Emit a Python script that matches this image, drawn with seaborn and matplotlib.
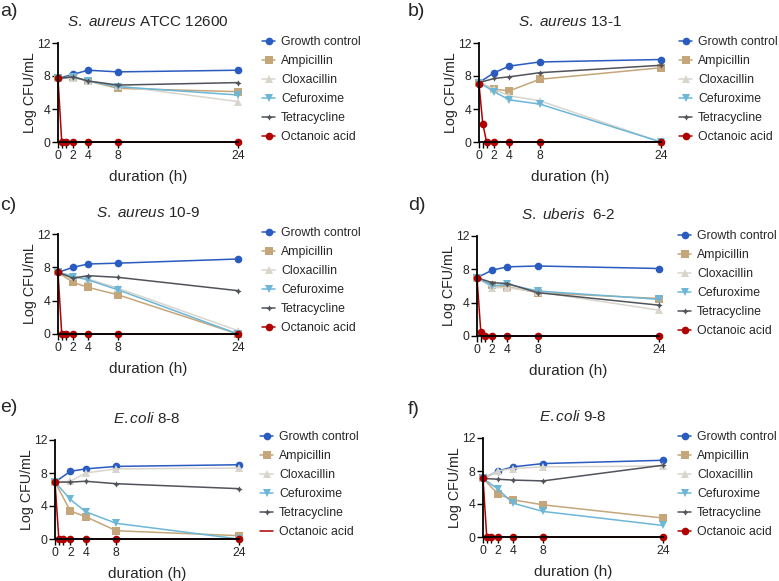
import numpy as np
import pandas as pd
import matplotlib
matplotlib.use("Agg")
import matplotlib.pyplot as plt
import seaborn as sns

sns.set_style("ticks")
plt.rcParams['font.family'] = ['Liberation Sans', 'DejaVu Sans']
plt.rcParams['mathtext.fontset'] = 'custom'
plt.rcParams['mathtext.it'] = 'Liberation Sans:italic'
plt.rcParams['mathtext.rm'] = 'Liberation Sans'

treatments = ["Growth control", "Ampicillin", "Cloxacillin", "Cefuroxime",
              "Tetracycline", "Octanoic acid"]
hours = [0, 2, 4, 8, 24]
hours_oct = [0, 0.5, 1, 2, 4, 8, 24]
x_ticks = [0, 2, 4, 8, 24]
y_ticks = [0, 4, 8, 12]

# rows: growth, ampicillin, cloxacillin, cefuroxime, tetracycline (at hours)
a_vals = [[7.7, 8.2, 8.7, 8.5, 8.7],
          [7.7, 7.9, 7.4, 6.5, 6.1],
          [7.7, 7.8, 7.4, 6.8, 4.9],
          [7.7, 7.9, 7.4, 6.7, 5.7],
          [7.7, 7.9, 7.4, 6.9, 7.2]]
a_oct = [7.7, 0, 0, 0, 0, 0, 0]

b_vals = [[7.2, 8.4, 9.2, 9.7, 10.0],
          [7.2, 6.4, 6.2, 7.6, 9.0],
          [7.2, 6.4, 5.6, 5.0, 0.0],
          [7.2, 6.1, 5.1, 4.6, 0.0],
          [7.2, 7.7, 7.9, 8.4, 9.3]]
b_oct = [7.0, 2.2, 0, 0, 0, 0, 0]

c_vals = [[7.4, 8.0, 8.4, 8.5, 9.0],
          [7.4, 6.2, 5.6, 4.7, 0.0],
          [7.4, 7.0, 6.6, 5.5, 0.4],
          [7.4, 6.9, 6.5, 5.3, 0.0],
          [7.4, 6.7, 7.0, 6.8, 5.2]]
c_oct = [7.4, 0, 0, 0, 0, 0, 0]

d_vals = [[7.0, 7.9, 8.3, 8.4, 8.1],
          [7.0, 6.1, 5.9, 5.2, 4.5],
          [7.0, 5.8, 5.8, 5.3, 3.1],
          [7.0, 6.0, 6.2, 5.4, 4.4],
          [7.0, 6.4, 6.3, 5.2, 3.7]]
d_oct = [7.0, 0.5, 0, 0, 0, 0, 0]

e_vals = [[6.9, 8.2, 8.5, 8.8, 9.0],
          [6.9, 3.4, 2.7, 1.0, 0.4],
          [6.9, 7.0, 8.0, 8.5, 8.6],
          [6.9, 4.8, 3.3, 1.9, 0.0],
          [6.9, 6.9, 7.0, 6.7, 6.1]]
e_oct = [6.9, 0, 0, 0, 0, 0, 0]

f_vals = [[7.1, 8.0, 8.5, 8.9, 9.3],
          [7.1, 5.2, 4.5, 3.9, 2.3],
          [7.1, 8.0, 8.3, 8.5, 8.6],
          [7.1, 5.8, 4.1, 3.1, 1.4],
          [7.1, 7.0, 6.9, 6.8, 8.7]]
f_oct = [7.1, 0, 0, 0, 0, 0, 0]

palette = {"Growth control": "#2a5bc0", "Ampicillin": "#c4a67a",
           "Cloxacillin": "#d9d5cc", "Cefuroxime": "#6cb6d8",
           "Tetracycline": "#50535a", "Octanoic acid": "#b00000"}
markers = {"Growth control": "o", "Ampicillin": "s", "Cloxacillin": "^",
           "Cefuroxime": "v", "Tetracycline": (4, 1, 0), "Octanoic acid": "o"}

W, H = 779, 581
fig = plt.figure(figsize=(W / 100, H / 100), dpi=100)


def px_box(x0, x1, ytop, ybot):
    return [x0 / W, 1 - ybot / H, (x1 - x0) / W, (ybot - ytop) / H]


def draw_panel(box, label, label_xy, title, vals, oct_vals, leg_xy, oct_line_only=False):
    rows = []
    for name, ys in zip(treatments[:5], vals):
        for h, v in zip(hours, ys):
            rows.append((name, h, v))
    for h, v in zip(hours_oct, oct_vals):
        rows.append(("Octanoic acid", h, v))
    df = pd.DataFrame(rows, columns=["treatment", "time", "logcfu"])

    ax = fig.add_axes(px_box(*box))
    sns.lineplot(data=df, x="time", y="logcfu", hue="treatment", style="treatment",
                 hue_order=treatments, style_order=treatments, palette=palette,
                 markers=markers, dashes=False, errorbar=None, markersize=5.5,
                 markeredgewidth=0, linewidth=1.1, ax=ax)
    for ln in ax.lines:
        ln.set_clip_on(False)
    ax.lines[4].set_markersize(4.5)

    ax.set_xlim(0, 24)
    ax.set_ylim(0, 12)
    ax.set_xticks(x_ticks)
    ax.set_xticks([0.5, 1], minor=True)
    ax.set_yticks(y_ticks)
    sns.despine(ax=ax)
    for s in ["left", "bottom"]:
        ax.spines[s].set_linewidth(1.3)
        ax.spines[s].set_color("black")
    ax.tick_params(which="both", length=4, width=1, labelsize=8.8, pad=1.5, color="black")
    ax.set_xlabel("duration (h)", fontsize=11, labelpad=6)
    ax.set_ylabel("Log CFU/mL", fontsize=10.3, labelpad=0)
    ax.set_title(title, fontsize=11, pad=12.5)

    sns.move_legend(ax, "upper left", bbox_to_anchor=(leg_xy[0] / W, 1 - leg_xy[1] / H),
                    bbox_transform=fig.transFigure, frameon=False, title=None,
                    fontsize=8.8, borderpad=0, borderaxespad=0, handlelength=1.1,
                    handletextpad=0.45, labelspacing=0.58)
    leg = ax.get_legend()
    leg.legend_handles[4].set_markersize(4.5)
    if oct_line_only:
        leg.legend_handles[5].set_marker("")

    fig.text(label_xy[0] / W, 1 - label_xy[1] / H, label, fontsize=14,
             ha="left", va="center")
    return ax


draw_panel((58, 238, 43, 142), "a)", (0, 12), r"$\it{S.\ aureus}$ ATCC 12600",
           a_vals, a_oct, (262, 36))
draw_panel((479, 661, 43, 142), "b)", (408, 12), r"$\it{S.\ aureus}$ 13-1",
           b_vals, b_oct, (679, 36))
draw_panel((58, 238, 234, 334), "c)", (0, 205), r"$\it{S.\ aureus}$ 10-9",
           c_vals, c_oct, (262, 227))
draw_panel((477, 659, 236, 336), "d)", (408, 205), r"$\it{S.\ uberis}$  6-2",
           d_vals, d_oct, (678, 230))
draw_panel((55, 239, 440, 539), "e)", (0, 408), r"$\it{E.coli}$ 8-8",
           e_vals, e_oct, (260, 431), oct_line_only=True)
draw_panel((483, 663, 438, 537), "f)", (408, 410), r"$\it{E.coli}$ 9-8",
           f_vals, f_oct, (678, 431))

fig.savefig("out.png", dpi=100)
